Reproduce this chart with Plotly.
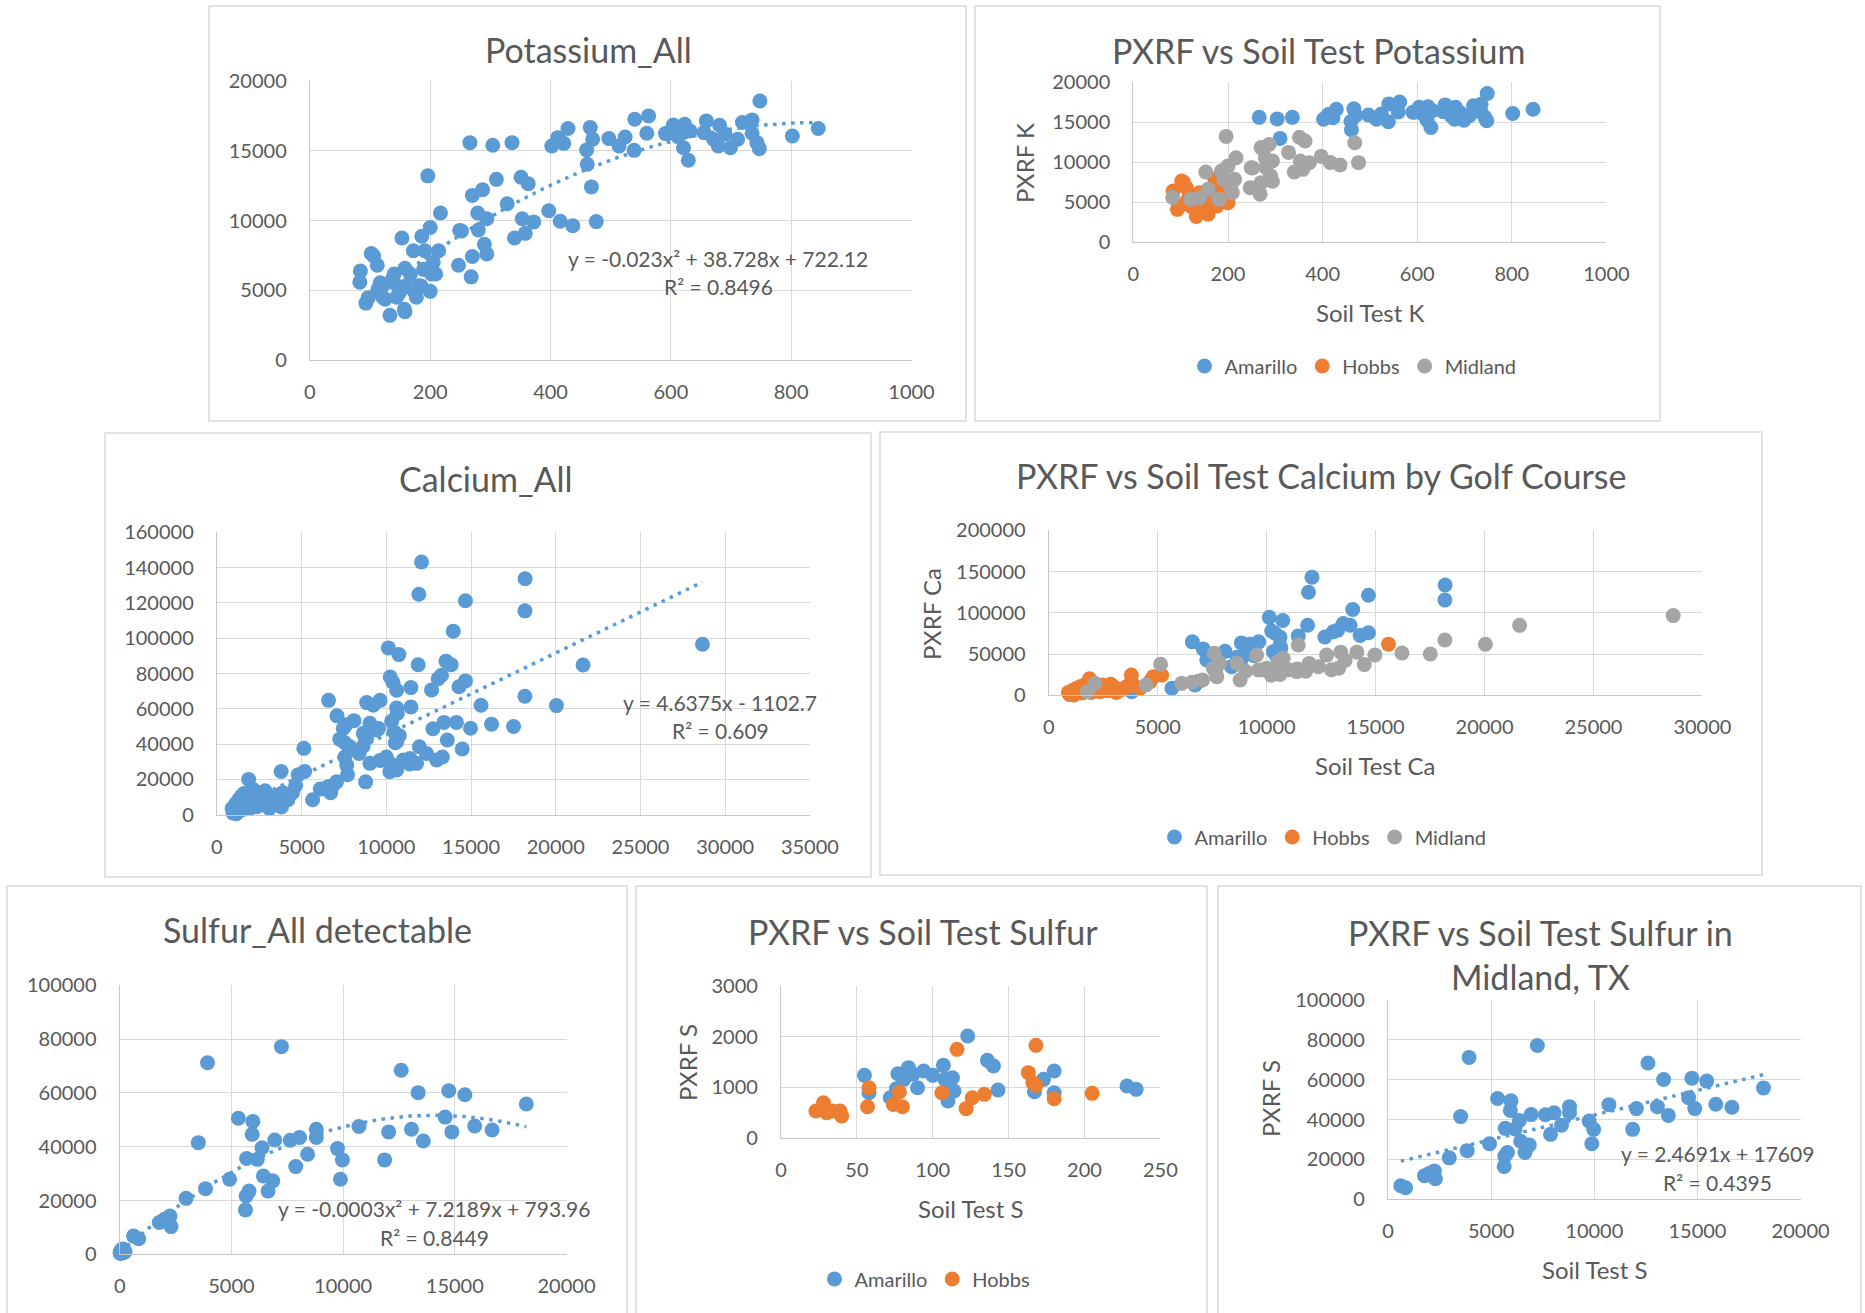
import numpy as np
import plotly.graph_objects as go

W, H = 1865, 1313

# ------------------------------------------------------------------ data
# Potassium (Soil Test K vs PXRF K) by golf course
K_amarillo_x = [266, 304, 336, 310, 402, 412, 422, 429, 466, 460, 470, 461, 497, 514, 524, 539, 540, 563, 560,
                591, 595, 604, 612, 623, 621, 629, 632, 655, 659, 671, 681, 679, 690, 699, 711, 719, 735, 735,
                743, 747, 748, 802, 845]
K_amarillo_y = [15580, 15390, 15580, 12950, 15340, 15940, 15530, 16590, 16660, 15060, 15820, 14030, 15870, 15340,
                15990, 15030, 17260, 17500, 16250, 16230, 16250, 16850, 16000, 16900, 15220, 14320, 16420, 16300,
                17140, 15820, 16830, 15340, 16200, 15220, 15820, 17020, 17210, 16250, 15580, 15150, 18570, 16060,
                16590]
K_hobbs_x = [84, 93, 97, 102, 106, 112, 113, 117, 121, 125, 133, 137, 140, 144, 149, 157, 158, 160, 167, 172,
             173, 177, 185, 189, 200, 202]
K_hobbs_y = [6380, 4080, 4470, 7630, 7460, 6790, 5070, 5540, 4500, 4350, 3200, 5780, 6170, 4500, 4830, 3630,
             3460, 5330, 6170, 7830, 4950, 4500, 5300, 6500, 4920, 6170]
K_midland_x = [83, 121, 140, 153, 158, 181, 186, 191, 196, 200, 205, 209, 214, 217, 247, 249, 252, 268, 270, 270,
               279, 280, 287, 290, 294, 294, 328, 340, 351, 353, 358, 363, 372, 397, 416, 437, 468, 476]
K_midland_y = [5580, 5330, 5540, 8750, 6580, 5330, 8875, 7830, 13200, 9500, 7000, 6170, 7830, 10540, 6790, 9290,
               9250, 5960, 11800, 7420, 10540, 9320, 12200, 8290, 10125, 7600, 11200, 8750, 13100, 10125, 9080,
               12630, 9900, 10700, 9950, 9630, 12410, 9920]

# Calcium (Soil Test Ca vs PXRF Ca) by golf course
Ca_amarillo_x = [12080, 11920, 14670, 18190, 18180, 13950, 10120, 10740, 11880, 13520, 13830, 10230, 10390, 10610,
                 11450, 12670, 13060, 13260, 14290, 14670, 6590, 7090, 8090, 8840, 9230, 9630, 10610, 10650, 10310,
                 10460, 7460, 8640, 8840, 9030, 9420, 7550, 8390, 8780, 10610, 6860, 6710, 5650, 3810, 7250]
Ca_amarillo_y = [143200, 124900, 121200, 133700, 115500, 104000, 94500, 90700, 85000, 87000, 85000, 78000, 75000,
                 70500, 72000, 70700, 77000, 79000, 72500, 75800, 64800, 56000, 53300, 63500, 62000, 64800, 60500,
                 57400, 52900, 46900, 48900, 46100, 43300, 51800, 48000, 40800, 34700, 42800, 41400, 16600, 12500,
                 8500, 4400, 42800]
Ca_hobbs_x = [15590, 5180, 4800, 4650, 3790, 3890, 4190, 2840, 3270, 1870, 900, 1000, 1100, 1200, 1280, 1350, 1450,
              1550, 1600, 1700, 1800, 1950, 2050, 2200, 2350, 2450, 2600, 2700, 3000, 3100, 3400, 3600, 950, 1150]
Ca_hobbs_y = [62000, 24500, 22600, 16600, 24500, 12500, 8500, 13500, 6500, 20000, 3500, 1500, 6000, 2500, 8500,
              4500, 10500, 3000, 12000, 6500, 9000, 3500, 11000, 7000, 4500, 12500, 9000, 5500, 10000, 3500, 7500,
              11000, 1000, 500]
Ca_midland_x = [28660, 21610, 20040, 18180, 17510, 16210, 14970, 14140, 13400, 13600, 14480, 13310, 12750, 12370,
                11450, 11950, 12970, 11400, 11790, 11000, 11380, 10760, 10530, 10310, 10210, 10610, 10000, 9820,
                9540, 9620, 9030, 8780, 8630, 7850, 7710, 7550, 7600, 7060, 7660, 6100, 5130, 4460, 2120, 1770, 6570]
Ca_midland_y = [96600, 84800, 61800, 67100, 50000, 51300, 49000, 52300, 52300, 42300, 37200, 32700, 48700, 34700,
                61000, 38500, 31000, 31900, 29100, 31000, 28700, 44800, 40800, 28400, 24400, 25300, 32700, 31000,
                48900, 30700, 29100, 18600, 38800, 38500, 22600, 32700, 50900, 18600, 28100, 14500, 37600, 12500,
                14500, 4400, 15900]

# Sulfur (Soil Test S vs PXRF S) by golf course
S_amarillo_x = [55, 58, 72, 76, 77, 81, 84, 87, 90, 94, 100, 107, 108, 110, 111, 113, 114, 123, 136, 140, 143, 167,
                173, 180, 180, 228, 234]
S_amarillo_y = [1233, 890, 791, 969, 1266, 1154, 1385, 1253, 989, 1319, 1233, 1431, 1154, 725, 890, 1187, 923, 2011,
                1530, 1418, 943, 910, 1154, 1319, 890, 1022, 956]
S_hobbs_x = [23, 28, 30, 34, 39, 40, 58, 57, 74, 78, 80, 106, 116, 122, 126, 134, 163, 166, 168, 168, 180, 205]
S_hobbs_y = [527, 692, 494, 527, 527, 428, 989, 613, 659, 903, 613, 890, 1747, 574, 791, 857, 1286, 1088, 1035,
             1826, 771, 877]
S_midland_x = [620, 850, 1770, 2000, 2250, 2300, 2970, 3520, 3840, 3930, 4920, 5310, 5630, 5660, 5790, 5680, 5960,
               5930, 6160, 6370, 6430, 6640, 6850, 6940, 7240, 7630, 8050, 7880, 8410, 8800, 8800, 9750, 9970, 9880,
               10710, 11860, 12040, 12600, 13060, 13360, 13590, 14570, 14730, 14870, 15450, 15890, 16670, 18200]
S_midland_y = [6800, 5800, 11800, 13000, 14200, 10300, 20800, 41500, 24400, 71200, 27900, 50600, 16500, 21700,
               23500, 35600, 49400, 44600, 35300, 39600, 29100, 23500, 27300, 42500, 77200, 42400, 43400, 32600,
               37200, 46500, 43400, 39300, 35100, 27900, 47500, 35100, 45500, 68400, 46500, 60100, 42100, 51000,
               60800, 45500, 59300, 47700, 46200, 55900]

# Trendline coefficients (highest power first) and their printed labels
K_trend = [-0.023, 38.728, 722.12]
Ca_trend = [4.6375, -1102.7]
S_all_trend = [-0.000256, 7.2189, 793.96]      # printed rounded as -0.0003
S_mid_trend = [2.4691, 17609]
K_eq = ["y = -0.023x² + 38.728x + 722.12", "R² = 0.8496"]
Ca_eq = ["y = 4.6375x - 1102.7", "R² = 0.609"]
S_all_eq = ["y = -0.0003x² + 7.2189x + 793.96", "R² = 0.8449"]
S_mid_eq = ["y = 2.4691x + 17609", "R² = 0.4395"]

courses = ["Amarillo", "Hobbs", "Midland"]

# ------------------------------------------------------------------ style
BLUE, ORANGE, GRAY = "#5B9BD5", "#ED7D31", "#A5A5A5"
TEXT, GRID, BORDER, AXLINE = "#595959", "#D9D9D9", "#D9D9D9", "#C8C8C8"
FONT = "Lato"
MS = 15
TITLE_SIZE, AXT_SIZE, TICK_SIZE, EQ_SIZE, LEG_SIZE = 34, 24, 20, 21, 20


def px(x):
    return x / W


def py(y):
    return 1 - y / H


fig = go.Figure()

# panel geometry in pixels: plot area (x0, x1, y0, y1), axis ranges and steps
axes_spec = [
    ((309.9, 911.5, 81, 360), [0, 1000], 200, [0, 20000], 5000),
    ((1133.4, 1606.4, 82, 242), [0, 1000], 200, [0, 20000], 5000),
    ((216.9, 809.9, 532.3, 814.7), [0, 35000], 5000, [0, 160000], 20000),
    ((1048.8, 1702.4, 530.3, 695.3), [0, 30000], 5000, [0, 200000], 50000),
    ((119.7, 566.5, 985.3, 1254.3), [0, 20000], 5000, [0, 100000], 20000),
    ((781, 1160.4, 986, 1137.7), [0, 250], 50, [0, 3000], 1000),
    ((1388, 1800.6, 1000, 1199.3), [0, 20000], 5000, [0, 100000], 20000),
]

tickfont = dict(family=FONT, size=TICK_SIZE, color=TEXT)
for i, (box, xr, xd, yr, yd) in enumerate(axes_spec, start=1):
    s = "" if i == 1 else str(i)
    x0, x1, y0, y1 = box
    fig.update_layout(**{
        "xaxis" + s: dict(domain=[px(x0), px(x1)], range=xr, tick0=0, dtick=xd, anchor="y" + s,
                          showgrid=True, gridcolor=GRID, gridwidth=1.3, zeroline=False,
                          showline=True, linecolor=AXLINE, linewidth=1.3, mirror=False,
                          ticks="", tickfont=tickfont, tickformat="d", ticklabelstandoff=14,
                          automargin=False, fixedrange=True),
        "yaxis" + s: dict(domain=[py(y1), py(y0)], range=yr, tick0=0, dtick=yd, anchor="x" + s,
                          showgrid=True, gridcolor=GRID, gridwidth=1.3, zeroline=False,
                          showline=True, linecolor=AXLINE, linewidth=1.3, mirror=False,
                          ticks="", tickfont=tickfont, tickformat="d", ticklabelstandoff=18,
                          automargin=False, fixedrange=True),
    })


def add_pts(x, y, color, n, name=None, legend=None):
    s = "" if n == 1 else str(n)
    fig.add_trace(go.Scatter(
        x=x, y=y, mode="markers", name=name,
        marker=dict(color=color, size=MS, line=dict(width=0)),
        xaxis="x" + s, yaxis="y" + s, cliponaxis=False,
        showlegend=legend is not None, legend=legend or "legend", hoverinfo="x+y"))


def add_trend(xs, coef, n):
    s = "" if n == 1 else str(n)
    xx = np.linspace(min(xs), max(xs), 200)
    fig.add_trace(go.Scatter(
        x=xx, y=np.polyval(coef, xx), mode="lines",
        line=dict(color=BLUE, width=3.5, dash="3.5px,5.5px"),
        xaxis="x" + s, yaxis="y" + s, showlegend=False, hoverinfo="skip"))


K_all_x = K_amarillo_x + K_hobbs_x + K_midland_x
K_all_y = K_amarillo_y + K_hobbs_y + K_midland_y
Ca_all_x = Ca_amarillo_x + Ca_hobbs_x + Ca_midland_x
Ca_all_y = Ca_amarillo_y + Ca_hobbs_y + Ca_midland_y
S_all_x = S_amarillo_x + S_hobbs_x + S_midland_x
S_all_y = S_amarillo_y + S_hobbs_y + S_midland_y

# 1 Potassium_All
add_pts(K_all_x, K_all_y, BLUE, 1)
add_trend(K_all_x, K_trend, 1)
# 2 PXRF vs Soil Test Potassium
for nm, xs, ys, c in zip(courses, [K_amarillo_x, K_hobbs_x, K_midland_x],
                         [K_amarillo_y, K_hobbs_y, K_midland_y], [BLUE, ORANGE, GRAY]):
    add_pts(xs, ys, c, 2, nm, "legend")
# 3 Calcium_All
add_pts(Ca_all_x, Ca_all_y, BLUE, 3)
add_trend(Ca_all_x, Ca_trend, 3)
# 4 PXRF vs Soil Test Calcium by Golf Course
for nm, xs, ys, c in zip(courses, [Ca_amarillo_x, Ca_hobbs_x, Ca_midland_x],
                         [Ca_amarillo_y, Ca_hobbs_y, Ca_midland_y], [BLUE, ORANGE, GRAY]):
    add_pts(xs, ys, c, 4, nm, "legend2")
# 5 Sulfur_All detectable
add_pts(S_all_x, S_all_y, BLUE, 5)
add_trend(S_all_x, S_all_trend, 5)
# 6 PXRF vs Soil Test Sulfur
for nm, xs, ys, c in zip(courses[:2], [S_amarillo_x, S_hobbs_x], [S_amarillo_y, S_hobbs_y], [BLUE, ORANGE]):
    add_pts(xs, ys, c, 6, nm, "legend3")
# 7 Midland sulfur
add_pts(S_midland_x, S_midland_y, BLUE, 7)
add_trend(S_midland_x, S_mid_trend, 7)

# ------------------------------------------------------------------ panel frames and plot-area edges
frames = [(209, 966, 6, 421), (975, 1660, 6, 421), (105, 871, 433, 877), (880, 1762, 432, 875),
          (7, 627, 886, 1330), (636, 1207, 886, 1330), (1218, 1861, 886, 1330)]
for x0, x1, y0, y1 in frames:
    fig.add_shape(type="rect", xref="paper", yref="paper", x0=px(x0), x1=px(x1), y0=py(y1), y1=py(y0),
                  line=dict(color=BORDER, width=1.5), layer="below")

# ------------------------------------------------------------------ texts
ann = []


def text(t, x, y, size, angle=0):
    ann.append(dict(text=t, x=px(x), y=py(y), xref="paper", yref="paper", showarrow=False,
                    xanchor="center", yanchor="middle", textangle=angle,
                    font=dict(family=FONT, size=size, color=TEXT)))


# titles
text("Potassium_All", 588, 49, TITLE_SIZE)
text("PXRF vs Soil Test Potassium", 1318, 51, TITLE_SIZE)
text("Calcium_All", 486, 478, TITLE_SIZE)
text("PXRF vs Soil Test Calcium by Golf Course", 1321, 475, TITLE_SIZE)
text("Sulfur_All detectable", 317, 930, TITLE_SIZE)
text("PXRF vs Soil Test Sulfur", 923, 931, TITLE_SIZE)
text("PXRF vs Soil Test Sulfur in<br>Midland, TX", 1540, 954, TITLE_SIZE)

# axis titles
text("PXRF K", 1025, 163, AXT_SIZE, -90)
text("Soil Test K", 1370, 312, AXT_SIZE)
text("PXRF Ca", 931, 614, AXT_SIZE, -90)
text("Soil Test Ca", 1375, 765, AXT_SIZE)
text("PXRF S", 687, 1063, AXT_SIZE, -90)
text("Soil Test S", 970, 1208, AXT_SIZE)
text("PXRF S", 1270, 1099, AXT_SIZE, -90)
text("Soil Test S", 1594, 1269, AXT_SIZE)

# trendline equations
for eq, (cx, y1, y2) in [(K_eq, (718, 258, 287)), (Ca_eq, (720, 702, 730)),
                         (S_all_eq, (434, 1208, 1237)), (S_mid_eq, (1717, 1153, 1182))]:
    text(eq[0], cx, y1, EQ_SIZE)
    text(eq[1], cx, y2, EQ_SIZE)

legend_common = dict(orientation="h", xanchor="center", yanchor="middle", bgcolor="rgba(0,0,0,0)",
                     font=dict(family=FONT, size=LEG_SIZE, color=TEXT), itemwidth=30, tracegroupgap=0)

fig.update_layout(
    width=W, height=H, margin=dict(l=0, r=0, t=0, b=0, pad=0, autoexpand=False),
    paper_bgcolor="white", plot_bgcolor="white",
    font=dict(family=FONT, color=TEXT),
    annotations=ann,
    legend=dict(x=px(1353), y=py(366), **legend_common),
    legend2=dict(x=px(1323), y=py(837), **legend_common),
    legend3=dict(x=px(925), y=py(1279), **legend_common),
    hovermode="closest",
)

fig.write_html("out.html", config={"displayModeBar": False},
               post_script="document.body.style.margin='0';document.body.style.padding='0';")
